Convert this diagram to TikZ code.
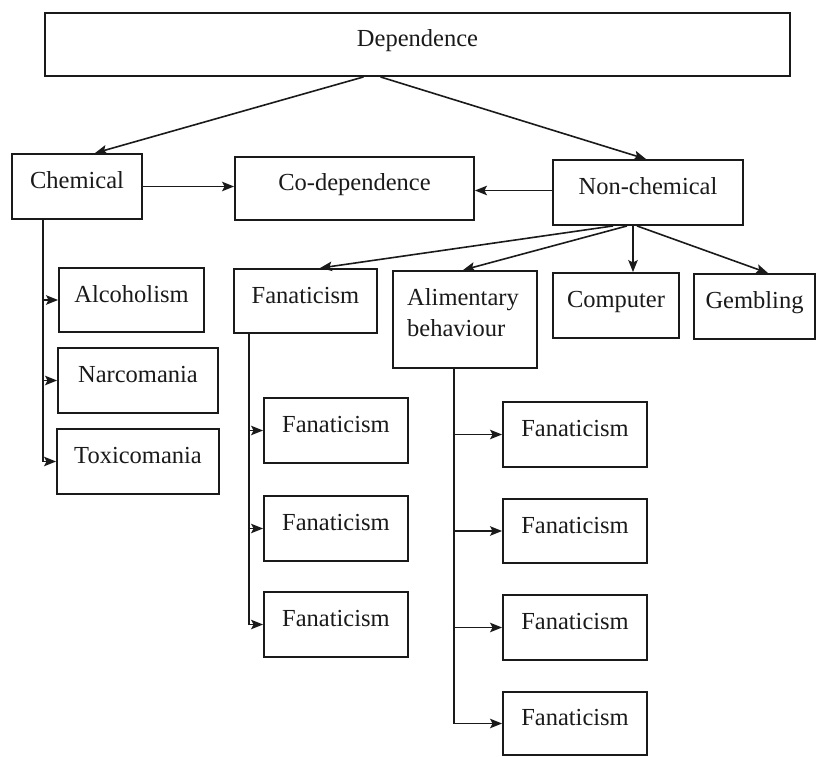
\documentclass[tikz,border=0pt]{standalone}
\usepackage{fontspec}
\setmainfont{Liberation Serif}
\usetikzlibrary{arrows.meta,calc}
\definecolor{ink}{HTML}{1A1A1A}
\begin{document}
\begin{tikzpicture}[x=1pt,y=-1pt,
  box/.style={draw=ink, line width=1.9pt, inner sep=0pt, text=ink,
    text height=12pt, text depth=8pt, font=\fontsize{24.5}{31}\selectfont},
  link/.style={draw=ink, line width=1.6pt,
    -{Stealth[length=12pt,width=9.5pt,inset=2.5pt]}}
]
\useasboundingbox (0,0) rectangle (816,757);

% top level
\node[box, minimum width=745pt, minimum height=63pt] (dep) at (417.5,44.5) {Dependence};

% second level
\node[box, minimum width=130pt, minimum height=65pt] (chem)    at (77,186.5)    {Chemical};
\node[box, minimum width=239pt, minimum height=63pt] (codep)   at (354.5,188.5) {Co-dependence};
\node[box, minimum width=190pt, minimum height=65pt] (nonchem) at (648,192.5)   {Non-chemical};

% chemical branch
\node[box, minimum width=145pt, minimum height=64pt] (alc)  at (131.5,300) {Alcoholism};
\node[box, minimum width=160pt, minimum height=65pt] (narc) at (138,380.5) {Narcomania};
\node[box, minimum width=162pt, minimum height=65pt] (toxi) at (138,461.5) {Toxicomania};

% non-chemical branch
\node[box, minimum width=143pt, minimum height=64pt] (fan0) at (305.5,301) {Fanaticism};
\node[box, minimum width=144pt, minimum height=97pt] (alim) at (465,319.5) {};
\node[inner sep=0pt, anchor=north west, align=left, text=ink,
      font=\fontsize{24.5}{31}\selectfont] (alimtext) at (407,288.3) {Alimentary\\behaviour};
\node[box, minimum width=126pt, minimum height=65pt] (comp) at (616,305.5)   {Computer};
\node[box, minimum width=121pt, minimum height=65pt] (gemb) at (754.5,306.5) {Gembling};

% fanaticism column
\node[box, minimum width=144pt, minimum height=65pt] (fanL1) at (336,430.5) {Fanaticism};
\node[box, minimum width=144pt, minimum height=65pt] (fanL2) at (336,528.5) {Fanaticism};
\node[box, minimum width=144pt, minimum height=65pt] (fanL3) at (336,624.5) {Fanaticism};

% alimentary column
\node[box, minimum width=144pt, minimum height=65pt] (fanR1) at (575,434.5) {Fanaticism};
\node[box, minimum width=144pt, minimum height=64pt] (fanR2) at (575,531)   {Fanaticism};
\node[box, minimum width=144pt, minimum height=65pt] (fanR3) at (575,627.5) {Fanaticism};
\node[box, minimum width=144pt, minimum height=63pt] (fanR4) at (575,723.5) {Fanaticism};

% trunk lines
\coordinate (tc) at (43,0);
\coordinate (tf) at (249,0);
\coordinate (ta) at (454,0);

% connectors from the top
\draw[link] ($(dep.south)+(-54,0)$) -- ($(chem.north)+(18,0)$);
\draw[link] ($(dep.south)+(-37,0)$) -- ($(nonchem.north)+(-2,0)$);

\draw[link] (chem.east) -- (chem.east -| codep.west);
\draw[link] ($(nonchem.west)+(0,-2)$) -- ($(nonchem.west -| codep.east)+(0,-2)$);

% fan-out from non-chemical
\draw[link] ($(nonchem.south)+(-35,0)$) -- ($(fan0.north)+(14.5,0)$);
\draw[link] ($(nonchem.south)+(-21,0)$) -- ($(alim.north)+(-2,0)$);
\draw[link] ($(nonchem.south)+(-15,0)$) -- ($(comp.north)+(17,0)$);
\draw[link] ($(nonchem.south)+(-11,0)$) -- ($(gemb.north)+(13.5,0)$);

% chemical trunk
\draw[link] (chem.south -| tc) |- (alc.west);
\draw[link] (chem.south -| tc) |- (narc.west);
\draw[link] (chem.south -| tc) |- (toxi.west);

% fanaticism trunk
\draw[link] (fan0.south -| tf) |- (fanL1.west);
\draw[link] (fan0.south -| tf) |- (fanL2.west);
\draw[link] (fan0.south -| tf) |- (fanL3.west);

% alimentary trunk
\draw[link] (alim.south -| ta) |- (fanR1.west);
\draw[link] (alim.south -| ta) |- (fanR2.west);
\draw[link] (alim.south -| ta) |- (fanR3.west);
\draw[link] (alim.south -| ta) |- (fanR4.west);
\end{tikzpicture}
\end{document}
